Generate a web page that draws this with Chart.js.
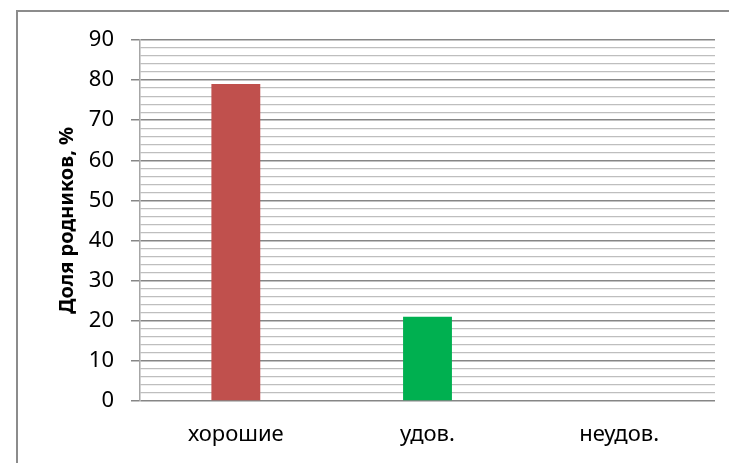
<!DOCTYPE html>
<html>
<head>
<meta charset="utf-8">
<script src="https://cdn.jsdelivr.net/npm/chart.js@4"></script>
<style>
html,body{margin:0;padding:0;background:#fff;}
#wrap{width:729px;height:463px;position:relative;}
</style>
</head>
<body>
<div id="wrap"><canvas id="c"></canvas></div>
<script>
const categories = ['хорошие', 'удов.', 'неудов.'];
const values = [79, 21, 0];
const barColors = ['#C0504D', '#00B050', '#4F81BD'];
const yTitle = 'Доля родников, %';

const frame = {
  id: 'frame',
  beforeDraw(chart) {
    const ctx = chart.ctx;
    ctx.save();
    ctx.fillStyle = '#fff';
    ctx.fillRect(0, 0, chart.width, chart.height);
    ctx.strokeStyle = '#8C8C8C';
    ctx.lineWidth = 2;
    ctx.beginPath();
    ctx.moveTo(17, chart.height);
    ctx.lineTo(17, 11);
    ctx.lineTo(chart.width, 11);
    ctx.stroke();
    ctx.restore();
  }
};

new Chart(document.getElementById('c'), {
  type: 'bar',
  data: {
    labels: categories,
    datasets: [{
      data: values,
      backgroundColor: barColors,
      barPercentage: 0.255,
      categoryPercentage: 1
    }]
  },
  options: {
    responsive: true,
    maintainAspectRatio: false,
    animation: false,
    devicePixelRatio: 1,
    layout: { padding: { top: 40, right: 14, bottom: 0, left: 0 } },
    plugins: { legend: { display: false }, tooltip: { enabled: false } },
    scales: {
      x: {
        grid: { display: false, drawTicks: false },
        border: { display: false },
        ticks: { color: '#000', font: { family: 'Noto Sans', size: 22 }, padding: 21 },
        afterFit(s) { s.height = 62; }
      },
      y: {
        min: 0, max: 90,
        grid: {
          color: c => (c.tick && c.tick.value % 10 === 0) ? '#868686' : '#BEBEBE',
          tickColor: c => (c.tick && c.tick.value % 10 === 0) ? '#868686' : 'rgba(0,0,0,0)',
          lineWidth: c => (c.tick && c.tick.value % 10 === 0) ? 1.5 : 1.3,
          tickLength: 9
        },
        border: { display: true, color: '#A6A6A6', width: 1.5 },
        ticks: {
          stepSize: 2,
          autoSkip: false,
          color: '#000',
          padding: 17,
          font: { family: 'Noto Sans', size: 22 },
          callback: v => (v % 10 === 0 ? String(v) : '')
        },
        title: {
          display: true,
          text: yTitle,
          color: '#000',
          font: { family: 'Noto Sans', size: 20, weight: 'bold' },
          padding: { top: 55, bottom: 0 }
        },
        afterFit(s) { s.width = 140; }
      }
    }
  },
  plugins: [frame]
});
</script>
</body>
</html>
